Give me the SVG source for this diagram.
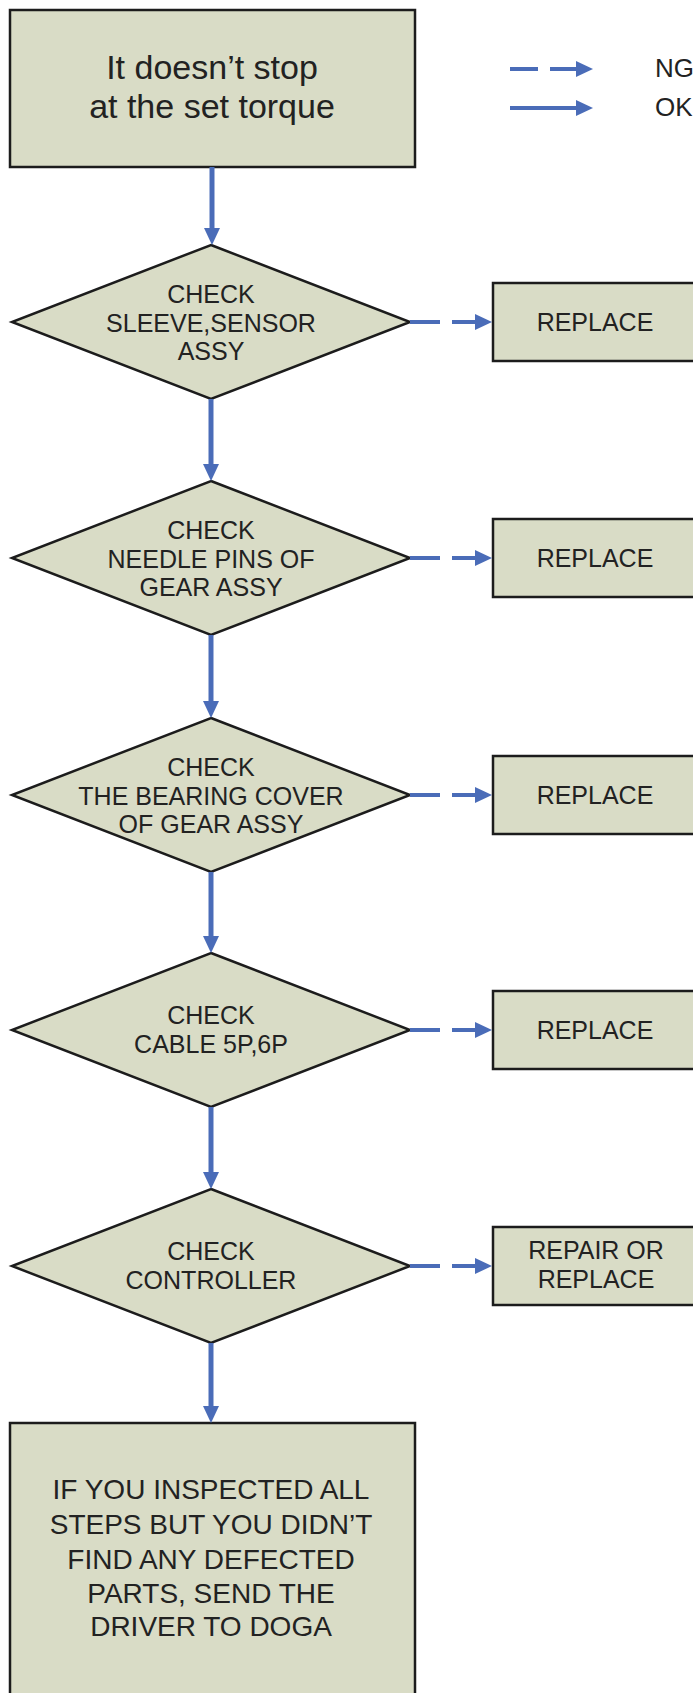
<svg xmlns="http://www.w3.org/2000/svg" width="693" height="1693" viewBox="0 0 693 1693">
<style>
.box{fill:#d9dcc6;stroke:#1c1c1c;stroke-width:2.5}
.t{font-family:"Liberation Sans",Arial,sans-serif;fill:#222;text-anchor:middle}
.big{font-size:34px}
.mid{font-size:25px}
.fin{font-size:28px}
.leg{font-size:26px;text-anchor:start}
.ok{fill:none;stroke:#4a6cb8;stroke-width:5}
.ng{fill:none;stroke:#4a6cb8;stroke-width:4;stroke-dasharray:30 12}
</style>
<defs>
<marker id="ah" markerUnits="userSpaceOnUse" markerWidth="20" markerHeight="20" refX="1" refY="8" orient="auto">
<path d="M0,0 L17,8 L0,16 z" fill="#4a6cb8"/>
</marker>
</defs>
<rect width="693" height="1693" fill="#ffffff"/>

<g id="legend">
<path class="ng" d="M510,69 H577" style="stroke-dasharray:28 12" marker-end="url(#ah)"/>
<path class="ok" d="M510,108 H577" style="stroke-width:4" marker-end="url(#ah)"/>
<text class="t leg" x="655" y="77">NG</text>
<text class="t leg" x="655" y="116">OK</text>
</g>

<g id="start">
<rect class="box" x="10" y="10" width="405" height="157"/>
<text class="t big" x="212" y="79">It doesn’t stop</text>
<text class="t big" x="212" y="118">at the set torque</text>
</g>

<g id="check1">
<polygon class="box" points="211,245 410,322 211,399 12,322"/>
<text class="t mid" x="211" y="303">CHECK</text>
<text class="t mid" x="211" y="332">SLEEVE,SENSOR</text>
<text class="t mid" x="211" y="360">ASSY</text>
</g>
<g id="replace1">
<rect class="box" x="493" y="283" width="220" height="78"/>
<text class="t mid" x="595" y="331">REPLACE</text>
</g>

<g id="check2">
<polygon class="box" points="211,481 410,558 211,635 12,558"/>
<text class="t mid" x="211" y="539">CHECK</text>
<text class="t mid" x="211" y="568">NEEDLE PINS OF</text>
<text class="t mid" x="211" y="596">GEAR ASSY</text>
</g>
<g id="replace2">
<rect class="box" x="493" y="519" width="220" height="78"/>
<text class="t mid" x="595" y="567">REPLACE</text>
</g>

<g id="check3">
<polygon class="box" points="211,718 410,795 211,872 12,795"/>
<text class="t mid" x="211" y="776">CHECK</text>
<text class="t mid" x="211" y="805">THE BEARING COVER</text>
<text class="t mid" x="211" y="833">OF GEAR ASSY</text>
</g>
<g id="replace3">
<rect class="box" x="493" y="756" width="220" height="78"/>
<text class="t mid" x="595" y="804">REPLACE</text>
</g>

<g id="check4">
<polygon class="box" points="211,953 410,1030 211,1107 12,1030"/>
<text class="t mid" x="211" y="1024">CHECK</text>
<text class="t mid" x="211" y="1053">CABLE 5P,6P</text>
</g>
<g id="replace4">
<rect class="box" x="493" y="991" width="220" height="78"/>
<text class="t mid" x="595" y="1039">REPLACE</text>
</g>

<g id="check5">
<polygon class="box" points="211,1189 410,1266 211,1343 12,1266"/>
<text class="t mid" x="211" y="1260">CHECK</text>
<text class="t mid" x="211" y="1289">CONTROLLER</text>
</g>
<g id="repair5">
<rect class="box" x="493" y="1227" width="220" height="78"/>
<text class="t mid" x="596" y="1259">REPAIR OR</text>
<text class="t mid" x="596" y="1288">REPLACE</text>
</g>

<g id="final">
<rect class="box" x="10" y="1423" width="405" height="290"/>
<text class="t fin" x="211" y="1499">IF YOU INSPECTED ALL</text>
<text class="t fin" x="211" y="1534">STEPS BUT YOU DIDN’T</text>
<text class="t fin" x="211" y="1569">FIND ANY DEFECTED</text>
<text class="t fin" x="211" y="1603">PARTS, SEND THE</text>
<text class="t fin" x="211" y="1636">DRIVER TO DOGA</text>
</g>

<g id="connectors">
<path class="ok" d="M212,167 V229" marker-end="url(#ah)"/>
<path class="ok" d="M211,399 V465" marker-end="url(#ah)"/>
<path class="ok" d="M211,635 V702" marker-end="url(#ah)"/>
<path class="ok" d="M211,872 V937" marker-end="url(#ah)"/>
<path class="ok" d="M211,1107 V1173" marker-end="url(#ah)"/>
<path class="ok" d="M211,1343 V1407" marker-end="url(#ah)"/>
<path class="ng" d="M410,322 H476" marker-end="url(#ah)"/>
<path class="ng" d="M410,558 H476" marker-end="url(#ah)"/>
<path class="ng" d="M410,795 H476" marker-end="url(#ah)"/>
<path class="ng" d="M410,1030 H476" marker-end="url(#ah)"/>
<path class="ng" d="M410,1266 H476" marker-end="url(#ah)"/>
</g>
</svg>
